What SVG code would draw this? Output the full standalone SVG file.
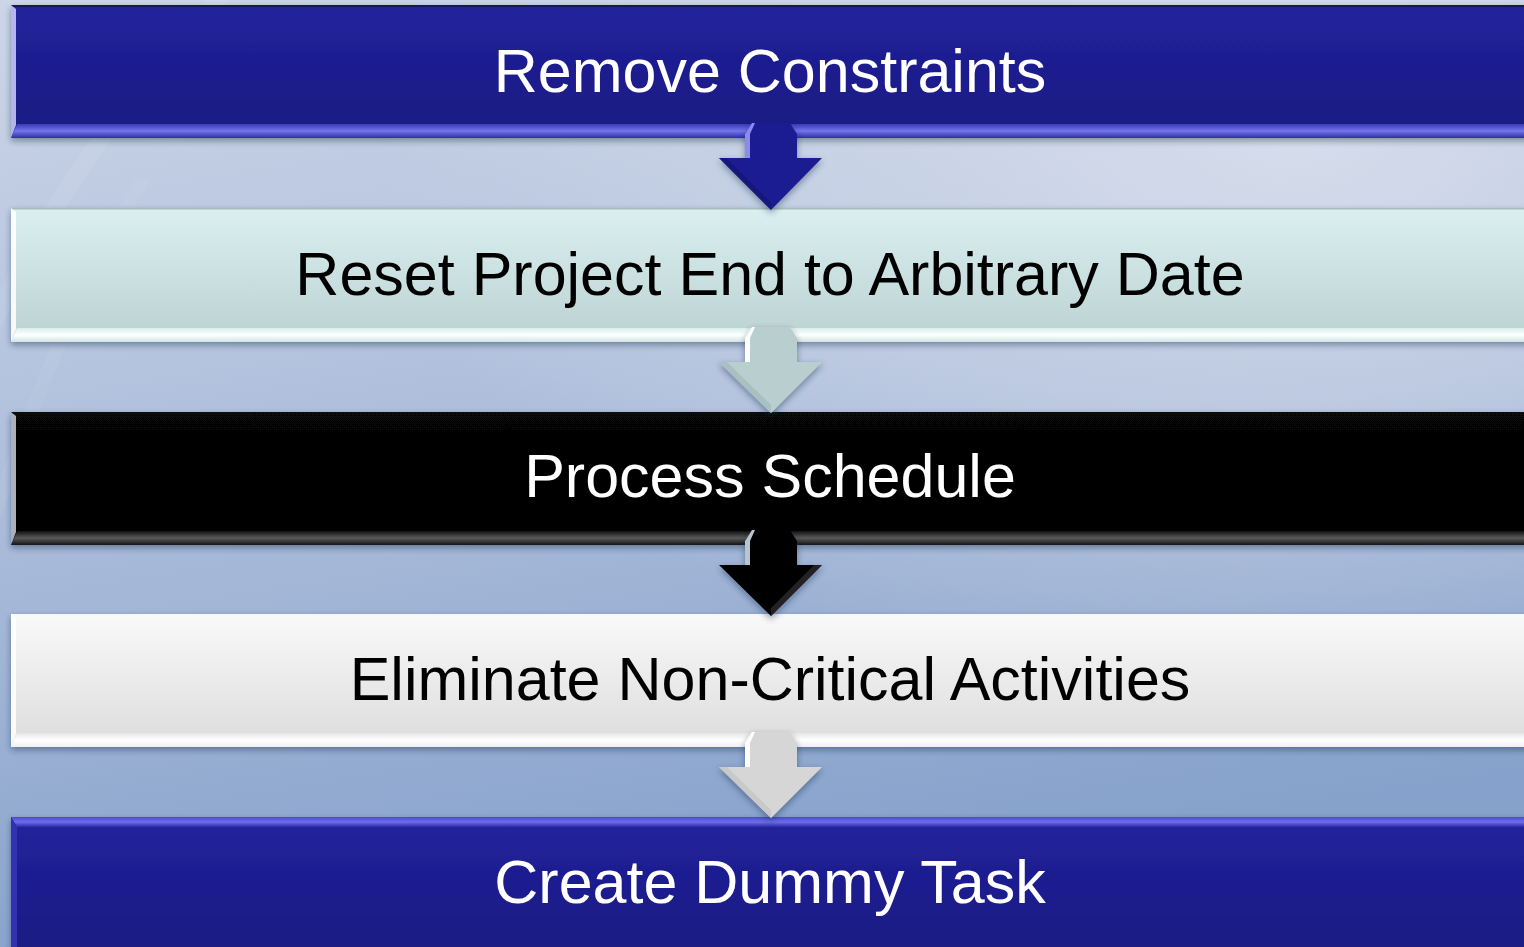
<svg xmlns="http://www.w3.org/2000/svg" width="1524" height="947" viewBox="0 0 1524 947">
  <defs>
    <linearGradient id="bg" x1="0" y1="0" x2="0.25" y2="1">
      <stop offset="0" stop-color="#cdd6e8"/>
      <stop offset="0.45" stop-color="#b0c0dc"/>
      <stop offset="1" stop-color="#86a1cb"/>
    </linearGradient>
    <radialGradient id="glow" cx="0.85" cy="0.15" r="0.6">
      <stop offset="0" stop-color="#dde2ee" stop-opacity="0.8"/>
      <stop offset="1" stop-color="#dde2ee" stop-opacity="0"/>
    </radialGradient>
    <linearGradient id="gBlue" x1="0" y1="0" x2="0" y2="1">
      <stop offset="0" stop-color="#22229c"/>
      <stop offset="1" stop-color="#1a1a82"/>
    </linearGradient>
    <linearGradient id="gCyan" x1="0" y1="0" x2="0" y2="1">
      <stop offset="0" stop-color="#daf0f0"/>
      <stop offset="1" stop-color="#bcd1d1"/>
    </linearGradient>
    <linearGradient id="gBlack" x1="0" y1="0" x2="0" y2="1">
      <stop offset="0" stop-color="#070707"/>
      <stop offset="1" stop-color="#000000"/>
    </linearGradient>
    <linearGradient id="gWhite" x1="0" y1="0" x2="0" y2="1">
      <stop offset="0" stop-color="#f9f9f9"/>
      <stop offset="1" stop-color="#dcdcdc"/>
    </linearGradient>
    <linearGradient id="bvBlue" x1="0" y1="0" x2="0" y2="1">
      <stop offset="0" stop-color="#3a3ab8"/>
      <stop offset="0.5" stop-color="#7474ec"/>
      <stop offset="1" stop-color="#2e2ea4"/>
    </linearGradient>
    <linearGradient id="bvCyan" x1="0" y1="0" x2="0" y2="1">
      <stop offset="0" stop-color="#d8eeee"/>
      <stop offset="0.5" stop-color="#ffffff"/>
      <stop offset="1" stop-color="#d0e4e4"/>
    </linearGradient>
    <linearGradient id="bvBlack" x1="0" y1="0" x2="0" y2="1">
      <stop offset="0" stop-color="#111"/>
      <stop offset="0.5" stop-color="#5a5a5a"/>
      <stop offset="1" stop-color="#151515"/>
    </linearGradient>
    <linearGradient id="bvWhite" x1="0" y1="0" x2="0" y2="1">
      <stop offset="0" stop-color="#e6e6e6"/>
      <stop offset="0.5" stop-color="#ffffff"/>
      <stop offset="1" stop-color="#f0f0f0"/>
    </linearGradient>
    <linearGradient id="bvTop" x1="0" y1="0" x2="0" y2="1">
      <stop offset="0" stop-color="#4a4ad0"/>
      <stop offset="0.5" stop-color="#6e6ee8"/>
      <stop offset="1" stop-color="#2a2aa8"/>
    </linearGradient>
    <filter id="shadow" x="-5%" y="-20%" width="110%" height="150%">
      <feDropShadow dx="0" dy="3" stdDeviation="3" flood-color="#1a2a50" flood-opacity="0.45"/>
    </filter>
    <style>
      .lbl { font-family: "Liberation Sans", Arial, sans-serif; font-size: 61px; text-anchor: middle; }
      .lt { fill: #ffffff; }
      .dk { fill: #000000; }
      .edgeL { opacity: 0.85; }
    </style>
  </defs>

  <!-- backdrop -->
  <rect width="1524" height="947" fill="url(#bg)"/>
  <rect width="1524" height="947" fill="url(#glow)"/>
  <path d="M0,330 C60,200 140,90 230,0 L205,0 C120,90 50,190 0,290 Z" fill="#ffffff" opacity="0.07"/>
  <path d="M0,520 C40,400 90,280 150,180 L135,180 C75,280 30,390 0,480 Z" fill="#ffffff" opacity="0.05"/>

  <!-- step 1 -->
  <g id="step1" filter="url(#shadow)">
    <rect x="11" y="5" width="1525" height="133" fill="url(#gBlue)"/>
    <rect x="11" y="5" width="1525" height="2" fill="#14145e"/>
    <polygon points="11,138 1536,138 1536,124 17,124" fill="url(#bvBlue)"/>
    <polygon points="11,5 16,9 16,125 11,138" fill="#cfcfff" class="edgeL"/>
    <text class="lbl lt" x="770" y="92">Remove Constraints</text>
  </g>

  <!-- step 2 -->
  <g id="step2" filter="url(#shadow)">
    <rect x="11" y="208" width="1525" height="134" fill="url(#gCyan)"/>
    <rect x="11" y="208" width="1525" height="1.5" fill="#a8bcbc"/>
    <polygon points="11,342 1536,342 1536,328 17,328" fill="url(#bvCyan)"/>
    <polygon points="11,208 16,212 16,329 11,342" fill="#ffffff" class="edgeL"/>
    <text class="lbl dk" x="770" y="295">Reset Project End to Arbitrary Date</text>
  </g>

  <!-- step 3 -->
  <g id="step3" filter="url(#shadow)">
    <rect x="11" y="412" width="1525" height="133" fill="url(#gBlack)"/>
    <polygon points="11,545 1536,545 1536,531 17,531" fill="url(#bvBlack)"/>
    <polygon points="11,412 16,416 16,532 11,545" fill="#c8d0d8" class="edgeL"/>
    <text class="lbl lt" x="770" y="497">Process Schedule</text>
  </g>

  <!-- step 4 -->
  <g id="step4" filter="url(#shadow)">
    <rect x="11" y="614" width="1525" height="133" fill="url(#gWhite)"/>
    <polygon points="11,747 1536,747 1536,733 17,733" fill="url(#bvWhite)"/>
    <polygon points="11,614 16,618 16,734 11,747" fill="#ffffff" class="edgeL"/>
    <text class="lbl dk" x="770" y="700">Eliminate Non-Critical Activities</text>
  </g>

  <!-- step 5 -->
  <g id="step5" filter="url(#shadow)">
    <rect x="11" y="817" width="1525" height="140" fill="url(#gBlue)"/>
    <polygon points="11,817 1536,817 1536,827 17,827" fill="url(#bvTop)"/>
    <polygon points="11,817 17,827 17,947 11,947" fill="#3030b0"/>
    <text class="lbl lt" x="770" y="903">Create Dummy Task</text>
  </g>

  <!-- connectors: downward block arrows between steps -->
  <g id="connectors" filter="url(#shadow)">
    <g id="arrow1">
      <path d="M752,123 L790,123 L797,134 L797,158 L822,158 L771,210 L719,158 L745,158 L745,134 Z" fill="#1e1e92"/>
      <path d="M745,134 L752,123 L755,123 L750,134 L750,158 L745,158 Z" fill="#8a8af0"/>
      <path d="M771,210 L719,158 L727,158 L771,202 Z" fill="#16166e" opacity="0.6"/>
    </g>
    <g id="arrow2">
      <path d="M752,327 L790,327 L797,338 L797,362 L822,362 L771,413 L719,362 L745,362 L745,338 Z" fill="#b9cfcf"/>
      <path d="M745,338 L752,327 L755,327 L750,338 L750,362 L745,362 Z" fill="#ffffff"/>
      <path d="M771,413 L719,362 L727,362 L771,405 Z" fill="#9fb6b6" opacity="0.6"/>
    </g>
    <g id="arrow3">
      <path d="M752,530 L790,530 L797,541 L797,565 L822,565 L771,616 L719,565 L745,565 L745,541 Z" fill="#000000"/>
      <path d="M745,541 L752,530 L755,530 L750,541 L750,565 L745,565 Z" fill="#b8c4d0"/>
      <path d="M771,616 L822,565 L814,565 L771,608 Z" fill="#2a2a2a" opacity="0.8"/>
    </g>
    <g id="arrow4">
      <path d="M752,732 L790,732 L797,743 L797,767 L822,767 L771,818 L719,767 L745,767 L745,743 Z" fill="#d6d6d6"/>
      <path d="M745,743 L752,732 L755,732 L750,743 L750,767 L745,767 Z" fill="#ffffff"/>
      <path d="M771,818 L719,767 L727,767 L771,810 Z" fill="#c0c0c0" opacity="0.6"/>
    </g>
  </g>
</svg>
